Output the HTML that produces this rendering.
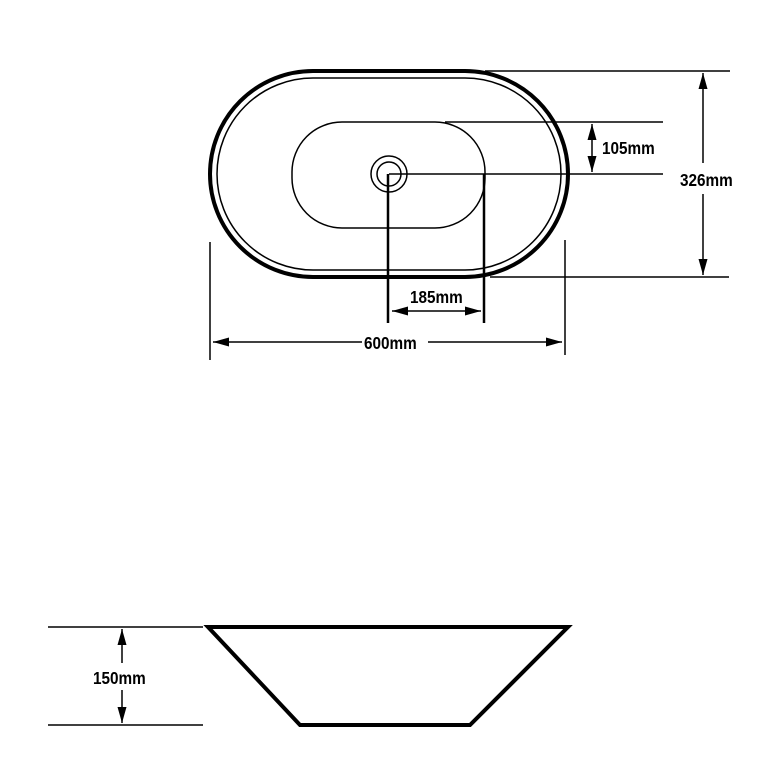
<!DOCTYPE html>
<html><head><meta charset="utf-8"><style>
html,body{margin:0;padding:0;background:#fff;width:768px;height:768px;overflow:hidden}
text{font-family:"Liberation Sans",sans-serif;font-size:18px;font-weight:bold;fill:#000}
</style></head><body>
<svg width="768" height="768" viewBox="0 0 768 768" xmlns="http://www.w3.org/2000/svg">
<defs>
<marker id="a" viewBox="0 0 16 9" refX="16" refY="4.5" markerWidth="16" markerHeight="9" markerUnits="userSpaceOnUse" orient="auto-start-reverse"><path d="M0,0L16,4.5L0,9z" fill="#000"/></marker>
</defs>
<g fill="none" stroke="#000">
<rect x="210" y="71" width="358" height="206" rx="103" ry="103" stroke-width="4"/>
<rect x="217" y="78" width="344" height="192" rx="96" ry="96" stroke-width="1.5"/>
<rect x="292" y="122" width="193" height="106" rx="50" ry="50" stroke-width="1.5"/>
<circle cx="389" cy="174" r="18" stroke-width="1.5"/>
<circle cx="389" cy="174" r="12" stroke-width="1.5"/>
<g stroke-width="1.5">
<line x1="485" y1="71" x2="730" y2="71"/>
<line x1="445" y1="122" x2="663" y2="122"/>
<line x1="389" y1="174" x2="663" y2="174"/>
<line x1="490" y1="277" x2="729" y2="277"/>
<line x1="210" y1="242" x2="210" y2="360"/>
<line x1="565" y1="240" x2="565" y2="355"/>
</g>
<g stroke-width="2.5">
<line x1="388" y1="174" x2="388" y2="323"/>
<line x1="484" y1="174" x2="484" y2="323"/>
</g>
<g stroke-width="1.5">
<line x1="392" y1="311" x2="481" y2="311" marker-start="url(#a)" marker-end="url(#a)"/>
<line x1="592" y1="124" x2="592" y2="172" marker-start="url(#a)" marker-end="url(#a)"/>
<line x1="703" y1="73" x2="703" y2="163" marker-start="url(#a)"/>
<line x1="703" y1="194" x2="703" y2="275" marker-end="url(#a)"/>
<line x1="213" y1="342" x2="362" y2="342" marker-start="url(#a)"/>
<line x1="428" y1="342" x2="562" y2="342" marker-end="url(#a)"/>
<line x1="48" y1="627" x2="203" y2="627"/>
<line x1="48" y1="725" x2="203" y2="725"/>
<line x1="122" y1="629" x2="122" y2="663" marker-start="url(#a)"/>
<line x1="122" y1="690" x2="122" y2="723" marker-end="url(#a)"/>
</g>
<polygon points="208,627 568,627 470,725 300,725" stroke-width="4" stroke-linejoin="miter"/>
</g>
<text x="410" y="303" transform="translate(410 0) scale(0.85 1) translate(-410 0)">185mm</text>
<text x="602" y="154" transform="translate(602 0) scale(0.85 1) translate(-602 0)">105mm</text>
<text x="680" y="186" transform="translate(680 0) scale(0.85 1) translate(-680 0)">326mm</text>
<text x="364" y="349" transform="translate(364 0) scale(0.85 1) translate(-364 0)">600mm</text>
<text x="93" y="684" transform="translate(93 0) scale(0.85 1) translate(-93 0)">150mm</text>
</svg>
</body></html>
